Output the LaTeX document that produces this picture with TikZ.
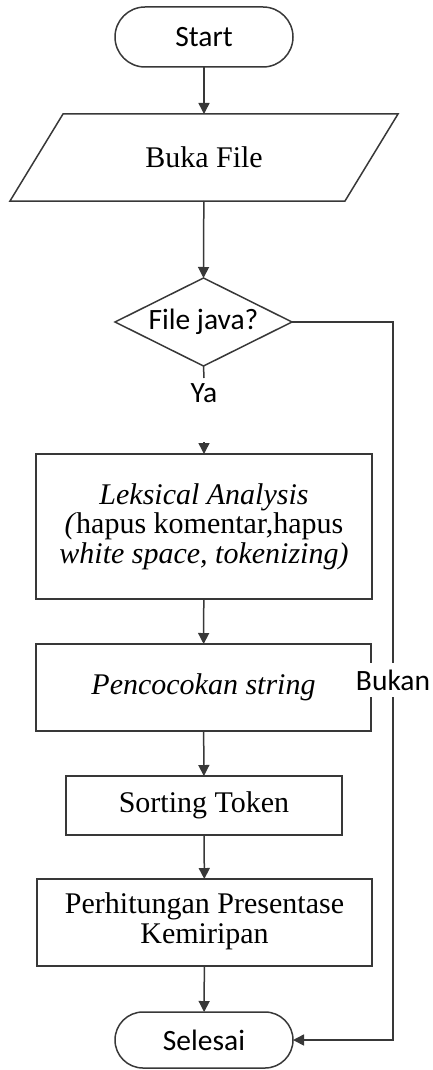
\documentclass[tikz,border=0pt]{standalone}
\usepackage{fontspec}
\setmainfont{Liberation Serif}
\newfontfamily\calib{Carlito}
\usetikzlibrary{arrows.meta,calc}
\begin{document}
\begin{tikzpicture}[x=1pt,y=-1pt,
  line width=1.5pt,
  every node/.style={inner sep=0pt, outer sep=0pt},
  ser/.style={font=\fontsize{30}{29.5}\selectfont},
  san/.style={font=\calib\fontsize{29.5}{30}\selectfont},
  box/.style={draw=black!78, ser, align=center},
  term/.style={draw=black!78, san, minimum width=178pt},
  arr/.style={draw=black!78, -{Triangle[width=11pt,length=11pt]}},
  ln/.style={draw=black!78}]
\useasboundingbox (0,0) rectangle (433,1070);

\node[term, minimum height=60pt, rounded corners=30pt] (start) at (204,37) {Start};

\node[ser, minimum width=335pt, minimum height=87pt] (buka) at (204,157.5) {Buka File};
\draw[ln] ([xshift=-26.5pt]buka.south west) -- ([xshift=26.5pt]buka.north west)
  -- ([xshift=26.5pt]buka.north east) -- ([xshift=-26.5pt]buka.south east) -- cycle;

\node[san, minimum width=177pt, minimum height=88pt] (dec) at (203.5,322) {File java?};
\draw[ln] (dec.north) -- (dec.east) -- (dec.south) -- (dec.west) -- cycle;

\node[san] (ya) at (204,393) {Ya};
\coordinate (ya1) at (204,378);
\coordinate (ya2) at (204,442);

\node[box, minimum width=336pt, minimum height=145pt] (lex) at (204,526.5)
  {\textit{Leksical Analysis}\\ \textit{(}hapus komentar,hapus\\ \textit{white space, tokenizing)}};

\node[box, minimum width=335pt, minimum height=87pt] (pen) at (203.5,687.5)
  {\raisebox{7pt}{\textit{Pencocokan string}}};

\node[box, minimum width=276pt, minimum height=59pt] (sort) at (204,805.5) {Sorting Token};

\node[box, minimum width=335pt, minimum height=87pt] (per) at (204.5,922.5)
  {\raisebox{9pt}{\begin{tabular}{@{}c@{}}Perhitungan Presentase\\Kemiripan\end{tabular}}};

\node[term, minimum height=56pt, rounded corners=28pt] (sel) at (204,1040) {Selesai};

\draw[arr] (start) -- (buka);
\draw[arr] (buka) -- (dec.north);
\draw[ln] (dec.south) -- (ya1);
\draw[arr] (ya2) -- (lex.north);
\draw[arr] (lex) -- (pen);
\draw[arr] (pen) -- (sort);
\draw[arr] (sort) -- (per);
\draw[arr] (per) -- (sel);

\coordinate (c1) at (393,322);
\coordinate (c2) at (393,1040);
\draw[arr] (dec.east) -- (c1) -- (c2) -- (sel.east);

\node[san, fill=white, inner xsep=6pt, inner ysep=7pt] (bukan) at (393,680) {Bukan};
\end{tikzpicture}
\end{document}
